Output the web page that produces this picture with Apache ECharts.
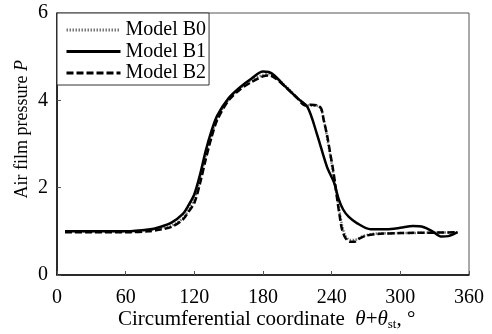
<!DOCTYPE html>
<html><head><meta charset="utf-8">
<script src="https://cdn.jsdelivr.net/npm/echarts@6/dist/echarts.min.js"></script>
<style>html,body{margin:0;padding:0;background:#fff}#c{width:492px;height:334px}</style>
</head><body><div id="c"></div>
<script>
const seriesNames = ['Model B0', 'Model B1', 'Model B2'];
const xTicks = [0, 60, 120, 180, 240, 300, 360];
const yTicks = [0, 2, 4, 6];

const thetaB0 = [7, 30, 60, 80, 90, 100, 110, 115, 120, 125, 130, 135, 140, 150, 160, 170, 180, 185, 190, 200, 210, 217, 222, 228, 231, 234, 237, 240, 243, 246, 249, 252, 256, 260, 264, 270, 280, 300, 330, 350];
const pB0 = [1.0, 1.0, 1.0, 1.03, 1.07, 1.13, 1.3, 1.5, 1.75, 2.2, 2.75, 3.2, 3.6, 4.02, 4.28, 4.46, 4.58, 4.6, 4.55, 4.32, 4.06, 3.9, 3.88, 3.87, 3.78, 3.45, 3.0, 2.55, 2.05, 1.6, 1.15, 0.9, 0.8, 0.8, 0.85, 0.91, 0.95, 0.96, 0.97, 0.98];

const thetaB1 = [7, 30, 60, 80, 90, 100, 110, 115, 120, 125, 130, 135, 140, 150, 160, 170, 180, 185, 190, 200, 210, 219, 227, 236, 242, 246, 250, 255, 262, 274, 288, 300, 311, 320, 328, 336, 342, 350];
const pB1 = [1.0, 1.0, 1.0, 1.04, 1.1, 1.2, 1.4, 1.6, 1.85, 2.3, 2.85, 3.3, 3.65, 4.05, 4.3, 4.5, 4.66, 4.65, 4.57, 4.3, 4.05, 3.84, 3.24, 2.47, 2.12, 1.75, 1.5, 1.33, 1.19, 1.05, 1.05, 1.08, 1.12, 1.1, 1.0, 0.88, 0.89, 0.98];

const thetaB2 = [7, 30, 60, 80, 90, 100, 110, 115, 120, 125, 130, 135, 140, 150, 160, 170, 180, 185, 190, 200, 210, 217, 222, 228, 231, 233, 236, 239, 241, 243, 245, 247, 249, 252, 256, 260, 264, 270, 280, 300, 330, 350];
const pB2 = [0.98, 0.98, 0.98, 1.0, 1.04, 1.1, 1.27, 1.45, 1.65, 2.1, 2.65, 3.15, 3.55, 4.0, 4.25, 4.42, 4.55, 4.57, 4.52, 4.3, 4.05, 3.88, 3.9, 3.88, 3.8, 3.55, 3.2, 2.75, 2.45, 2.1, 1.7, 1.35, 1.05, 0.85, 0.76, 0.76, 0.83, 0.9, 0.94, 0.96, 0.97, 0.98];

const zip = (a, b) => a.map((v, i) => [v, b[i]]);
const FONT = 'Liberation Serif';
const txt = '"Liberation Serif"';

const chart = echarts.init(document.getElementById('c'), null, {renderer: 'canvas'});
chart.setOption({
  animation: false,
  backgroundColor: '#fff',
  grid: {left: 57, right: 23, top: 13, bottom: 59, show: true, borderColor: '#555', borderWidth: 1, backgroundColor: 'transparent'},
  legend: {
    orient: 'vertical', left: 57, top: 13,
    padding: [7, 3, 2, 8], itemGap: 1.5, itemWidth: 54, itemHeight: 14,
    backgroundColor: '#fff', borderColor: '#333', borderWidth: 1, borderRadius: 0,
    itemStyle: {opacity: 0},
    lineStyle: {width: 3},
    textStyle: {fontFamily: FONT, fontSize: 20, lineHeight: 20, color: '#000'},
    data: seriesNames
  },
  xAxis: {
    type: 'value', min: 0, max: 360, interval: 60,
    axisLine: {show: true, lineStyle: {color: '#000', width: 1.5}},
    axisTick: {show: true, inside: true, length: 4, lineStyle: {color: '#555'}},
    axisLabel: {fontFamily: FONT, fontSize: 20, color: '#000', margin: 13,
      formatter: v => xTicks.includes(v) ? String(v) : ''},
    splitLine: {show: false}
  },
  yAxis: {
    type: 'value', min: 0, max: 6, interval: 2,
    axisLine: {show: true, lineStyle: {color: '#000', width: 1.5}},
    axisTick: {show: true, inside: true, length: 4, lineStyle: {color: '#555'}},
    axisLabel: {fontFamily: FONT, fontSize: 20, color: '#000', margin: 9,
      formatter: v => yTicks.includes(v) ? String(v) : ''},
    splitLine: {show: false}
  },
  graphic: [
    {type: 'text', left: 13, top: 60, rotation: Math.PI / 2,
      style: {text: 'Air film pressure {i|P}', fill: '#000', font: '18px ' + txt,
        rich: {i: {fontStyle: 'italic', fontFamily: FONT, fontSize: 18}}}},
    {type: 'text', left: 118, top: 309,
      style: {text: 'Circumferential coordinate  {i|θ}+{i|θ}{s|st}, °', fill: '#000', font: '21px ' + txt,
        rich: {i: {fontStyle: 'italic', fontFamily: FONT, fontSize: 21}, s: {fontFamily: FONT, fontSize: 13, padding: [10, 0, 0, 0]}}}}
  ],
  series: [
    {name: 'Model B0', type: 'line', data: zip(thetaB0, pB0), showSymbol: false, symbol: 'none', smooth: 0.3,
      lineStyle: {color: '#777', width: 2.5, type: [1.5, 1.5]}, itemStyle: {color: '#777'}, z: 1},
    {name: 'Model B1', type: 'line', data: zip(thetaB1, pB1), showSymbol: false, symbol: 'none', smooth: 0.3,
      lineStyle: {color: '#000', width: 2.5, type: 'solid'}, itemStyle: {color: '#000'}, z: 3},
    {name: 'Model B2', type: 'line', data: zip(thetaB2, pB2), showSymbol: false, symbol: 'none', smooth: 0.3,
      lineStyle: {color: '#000', width: 2.5, type: [7, 3]}, itemStyle: {color: '#000'}, z: 2}
  ]
});
</script></body></html>
